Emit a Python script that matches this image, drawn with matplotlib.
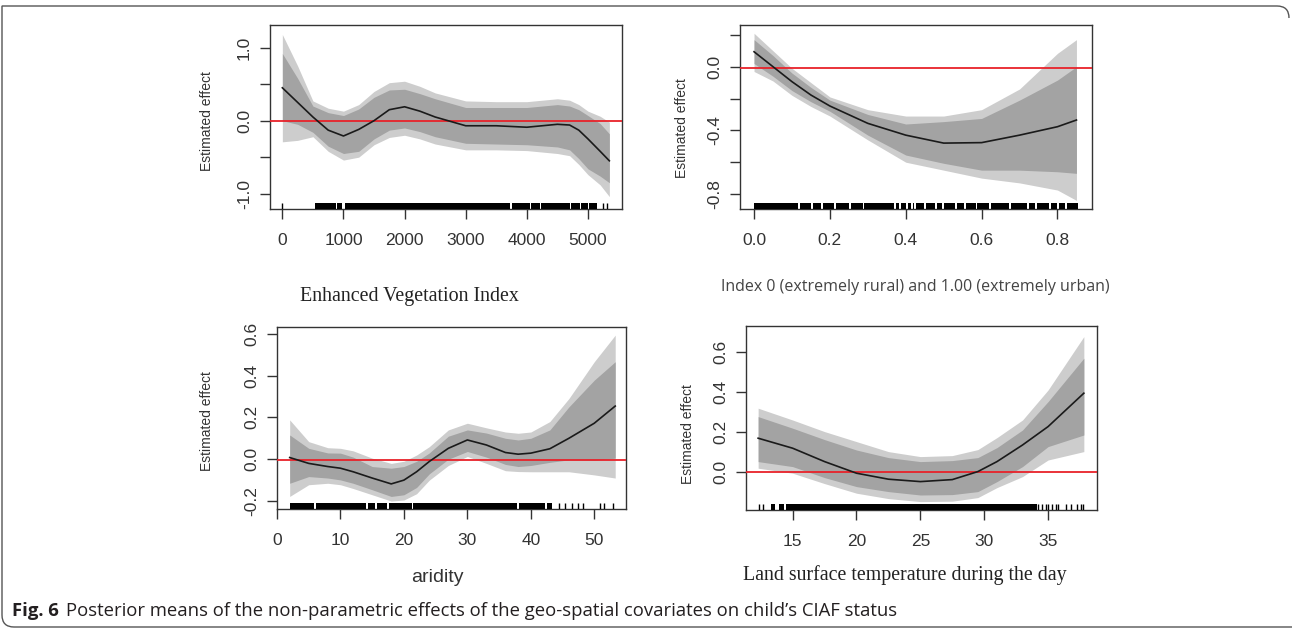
import numpy as np
import matplotlib
matplotlib.use('Agg')
import matplotlib.pyplot as plt
from matplotlib.path import Path
from matplotlib.patches import PathPatch
from matplotlib.transforms import IdentityTransform

plt.rcParams['font.family'] = ['Liberation Sans', 'DejaVu Sans']

# ---- panel 1: Enhanced Vegetation Index
evi_x = [0, 250, 500, 750, 1000, 1250, 1500, 1750, 2000, 2250, 2500, 3000, 3500, 4000, 4500, 4700, 4850, 5000, 5200, 5350]
evi_mean = [0.45, 0.25, 0.05, -0.13, -0.21, -0.12, 0.0, 0.15, 0.19, 0.13, 0.05, -0.07, -0.07, -0.09, -0.05, -0.06, -0.13, -0.25, -0.42, -0.55]
evi_o_hi = [1.18, 0.75, 0.27, 0.17, 0.13, 0.22, 0.40, 0.52, 0.54, 0.47, 0.38, 0.27, 0.26, 0.26, 0.30, 0.28, 0.22, 0.13, 0.06, -0.02]
evi_i_hi = [0.92, 0.58, 0.20, 0.11, 0.07, 0.16, 0.32, 0.42, 0.43, 0.37, 0.30, 0.18, 0.18, 0.18, 0.22, 0.20, 0.15, 0.07, -0.04, -0.18]
evi_i_lo = [0.0, -0.05, -0.16, -0.35, -0.45, -0.42, -0.25, -0.13, -0.10, -0.15, -0.22, -0.31, -0.32, -0.33, -0.36, -0.40, -0.52, -0.66, -0.76, -0.85]
evi_o_lo = [-0.29, -0.27, -0.22, -0.42, -0.54, -0.50, -0.33, -0.23, -0.20, -0.25, -0.32, -0.40, -0.40, -0.41, -0.45, -0.48, -0.60, -0.74, -0.88, -1.04]
evi_rug_blocks = [(535, 612), (622, 694), (704, 776), (786, 885), (895, 972), (1026, 3730), (3760, 3885), (3895, 4050),
                  (4060, 4215), (4225, 4375), (4385, 4540), (4550, 4705), (4715, 4870), (4880, 5000), (5010, 5145)]
evi_rug_single = [0, 5245, 5310]

# ---- panel 2: urbanicity index
urb_x = [0.0, 0.05, 0.1, 0.15, 0.2, 0.3, 0.4, 0.5, 0.6, 0.7, 0.8, 0.85]
urb_mean = [0.094, 0.0, -0.094, -0.178, -0.247, -0.356, -0.43, -0.48, -0.477, -0.43, -0.377, -0.335]
urb_o_hi = [0.21, 0.10, -0.01, -0.10, -0.19, -0.27, -0.31, -0.31, -0.27, -0.14, 0.084, 0.17]
urb_i_hi = [0.17, 0.07, -0.04, -0.13, -0.21, -0.30, -0.36, -0.345, -0.325, -0.21, -0.084, 0.0]
urb_i_lo = [0.02, -0.06, -0.15, -0.22, -0.28, -0.43, -0.555, -0.607, -0.65, -0.65, -0.66, -0.67]
urb_o_lo = [-0.03, -0.09, -0.18, -0.25, -0.31, -0.46, -0.60, -0.65, -0.70, -0.73, -0.775, -0.84]
urb_rug_blocks = [(0.0, 0.117), (0.121, 0.150), (0.155, 0.176), (0.181, 0.211), (0.216, 0.251), (0.256, 0.286),
                  (0.291, 0.369), (0.374, 0.383), (0.388, 0.400), (0.405, 0.413), (0.418, 0.422), (0.427, 0.448),
                  (0.453, 0.478), (0.483, 0.496), (0.501, 0.531), (0.536, 0.553), (0.558, 0.584), (0.589, 0.619),
                  (0.624, 0.672), (0.677, 0.720), (0.725, 0.742), (0.747, 0.777), (0.782, 0.799), (0.804, 0.821),
                  (0.826, 0.854)]
urb_rug_single = []

# ---- panel 3: aridity
ari_x = [2, 5, 8, 10, 12, 15, 18, 20, 22, 24, 27, 30, 33, 36, 38, 40, 43, 46, 50, 53.3]
ari_mean = [0.008, -0.02, -0.035, -0.043, -0.06, -0.09, -0.118, -0.10, -0.06, -0.011, 0.052, 0.092, 0.068, 0.032, 0.024, 0.029, 0.05, 0.10, 0.172, 0.254]
ari_o_hi = [0.188, 0.084, 0.055, 0.052, 0.04, 0.005, -0.02, -0.01, 0.02, 0.06, 0.14, 0.172, 0.15, 0.13, 0.124, 0.13, 0.18, 0.29, 0.466, 0.593]
ari_i_hi = [0.116, 0.052, 0.03, 0.029, 0.01, -0.035, -0.043, -0.035, -0.01, 0.03, 0.11, 0.14, 0.125, 0.10, 0.092, 0.10, 0.14, 0.25, 0.378, 0.466]
ari_i_lo = [-0.115, -0.083, -0.09, -0.099, -0.115, -0.146, -0.178, -0.17, -0.135, -0.07, 0.0, 0.037, 0.01, -0.025, -0.035, -0.03, -0.015, -0.003, -0.006, 0.005]
ari_o_lo = [-0.178, -0.122, -0.115, -0.122, -0.14, -0.17, -0.20, -0.195, -0.165, -0.10, -0.03, 0.013, -0.02, -0.055, -0.059, -0.06, -0.06, -0.06, -0.075, -0.09]
ari_rug_blocks = [(2.1, 5.8), (6.1, 14.1), (14.4, 15.4), (15.7, 17.4), (17.7, 21.2), (21.5, 37.8), (38.1, 42.3), (42.5, 43.4)]
ari_rug_single = [44.4, 45.4, 46.5, 47.5, 48.3, 50.9, 51.5, 53.0]

# ---- panel 4: land surface temperature (day)
lst_x = [12.3, 15, 17.5, 20, 22.5, 25, 27.5, 29.5, 31, 33, 35, 37.8]
lst_mean = [0.167, 0.117, 0.05, -0.008, -0.038, -0.05, -0.04, 0.0, 0.05, 0.133, 0.225, 0.392]
lst_o_hi = [0.317, 0.258, 0.20, 0.15, 0.10, 0.075, 0.08, 0.11, 0.17, 0.258, 0.408, 0.675]
lst_i_hi = [0.275, 0.217, 0.16, 0.108, 0.07, 0.05, 0.055, 0.07, 0.12, 0.208, 0.35, 0.567]
lst_i_lo = [0.05, 0.025, -0.03, -0.075, -0.10, -0.117, -0.115, -0.10, -0.05, 0.025, 0.125, 0.183]
lst_o_lo = [0.017, -0.008, -0.06, -0.108, -0.135, -0.15, -0.148, -0.13, -0.08, -0.025, 0.058, 0.10]
lst_rug_blocks = [(13.3, 13.6), (13.9, 14.3), (14.5, 34.1)]
lst_rug_single = [12.4, 12.7, 34.2, 34.5, 34.8, 35.0, 35.3, 35.6, 35.8, 36.4, 36.8, 37.3, 37.6, 37.7]

W, H = 1292, 630
fig = plt.figure(figsize=(W / 100, H / 100), dpi=100)
fig.patch.set_facecolor('white')


def px_axes(left, top, right, bottom):
    # pixel box (from top-left) -> figure fraction
    return fig.add_axes([left / W, 1 - bottom / H, (right - left) / W, (bottom - top) / H])


def draw_panel(ax, x, mean, o_hi, i_hi, i_lo, o_lo, blocks, singles, red_y,
               xlim, ylim, xticks, xlabels, yticks, ylabels):
    ax.fill_between(x, o_lo, o_hi, color='#cdcdcd', lw=0, zorder=1)
    ax.fill_between(x, i_lo, i_hi, color='#a3a3a3', lw=0, zorder=2)
    ax.axhline(red_y, color='#e8222a', lw=1.3, zorder=3)
    ax.plot(x, mean, color='#1a1a1a', lw=1.2, zorder=4)
    # rug along the bottom of the box
    tr = ax.get_xaxis_transform()
    ax.broken_barh([(s, e - s) for s, e in blocks], (0, 0.035), facecolors='black',
                   transform=tr, zorder=5)
    if singles:
        ax.vlines(singles, 0, 0.035, transform=tr, color='black', lw=1.0, zorder=5)
    ax.set_xlim(xlim)
    ax.set_ylim(ylim)
    ax.set_xticks(xticks)
    ax.set_xticklabels(xlabels)
    ax.set_yticks(yticks)
    ax.set_yticklabels(ylabels, rotation=90, va='center')
    ax.tick_params(direction='out', length=7, width=1, color='#333333',
                   labelsize=12.5, labelcolor='#333333')
    ax.tick_params(axis='x', pad=10)
    ax.tick_params(axis='y', pad=6)
    for sp in ax.spines.values():
        sp.set_color('#333333')
        sp.set_linewidth(1.0)


ax1 = px_axes(270, 25, 622, 209)
draw_panel(ax1, evi_x, evi_mean, evi_o_hi, evi_i_hi, evi_i_lo, evi_o_lo, evi_rug_blocks, evi_rug_single, 0.0,
           (-202, 5557), (-1.21, 1.31), [0, 1000, 2000, 3000, 4000, 5000],
           ['0', '1000', '2000', '3000', '4000', '5000'],
           [-1.0, -0.5, 0.0, 0.5, 1.0], ['-1.0', '', '0.0', '', '1.0'])

ax2 = px_axes(740, 25, 1092, 209)
draw_panel(ax2, urb_x, urb_mean, urb_o_hi, urb_i_hi, urb_i_lo, urb_o_lo, urb_rug_blocks, urb_rug_single, -0.01,
           (-0.037, 0.891), (-0.894, 0.262), [0.0, 0.2, 0.4, 0.6, 0.8],
           ['0.0', '0.2', '0.4', '0.6', '0.8'],
           [-0.8, -0.6, -0.4, -0.2, 0.0, 0.2], ['-0.8', '', '-0.4', '', '0.0', ''])

ax3 = px_axes(277, 327, 626, 509)
draw_panel(ax3, ari_x, ari_mean, ari_o_hi, ari_i_hi, ari_i_lo, ari_o_lo, ari_rug_blocks, ari_rug_single, -0.005,
           (0.0, 55.0), (-0.238, 0.632), [0, 10, 20, 30, 40, 50],
           ['0', '10', '20', '30', '40', '50'],
           [-0.2, 0.0, 0.2, 0.4, 0.6], ['-0.2', '0.0', '0.2', '0.4', '0.6'])

ax4 = px_axes(746, 326, 1097, 510)
draw_panel(ax4, lst_x, lst_mean, lst_o_hi, lst_i_hi, lst_i_lo, lst_o_lo, lst_rug_blocks, lst_rug_single, 0.0,
           (11.35, 38.83), (-0.192, 0.728), [15, 20, 25, 30, 35],
           ['15', '20', '25', '30', '35'],
           [0.0, 0.2, 0.4, 0.6], ['0.0', '0.2', '0.4', '0.6'])


def ftext(x, y, s, **kw):
    fig.text(x / W, 1 - y / H, s, **kw)


# y labels
for (x, y) in [(207, 121), (682, 128), (207, 421), (688, 434)]:
    ftext(x, y, 'Estimated effect', rotation=90, ha='center', va='center', fontsize=10, color='#333333')

# x labels
ftext(409, 297, 'Enhanced Vegetation Index', ha='center', va='center', fontsize=14.4,
      family=['Liberation Serif', 'DejaVu Serif'], color='#222222')
ftext(915, 287, 'Index 0 (extremely rural) and 1.00 (extremely urban)', ha='center', va='center',
      fontsize=11.5, family=['Open Sans', 'DejaVu Sans'], color='#444444')
ftext(437, 577, 'aridity', ha='center', va='center', fontsize=14, color='#333333')
ftext(905, 575, 'Land surface temperature during the day', ha='center', va='center', fontsize=14.3,
      family=['Liberation Serif', 'DejaVu Serif'], color='#222222')

# caption
ftext(12, 611, 'Fig. 6', ha='left', va='center', fontsize=13.3, weight='bold',
      family=['Open Sans', 'DejaVu Sans'], color='#231f20')
ftext(66, 611, "Posterior means of the non-parametric effects of the geo-spatial covariates on child\u2019s CIAF status",
      ha='left', va='center', fontsize=13.3, family=['Open Sans', 'DejaVu Sans'], color='#231f20')

# outer frame: square top-left, rounded top-right and bottom-left
verts = [(1289, 612), (1289, 624), (1277, 624), (2, 624), (2, 15), (2, 3), (14, 3), (1292, 3)]
codes = [Path.MOVETO, Path.CURVE3, Path.CURVE3, Path.LINETO, Path.LINETO, Path.CURVE3, Path.CURVE3, Path.LINETO]
fig.patches.append(PathPatch(Path(verts, codes), fill=False, ec='#555555', lw=1.0,
                             transform=IdentityTransform(), figure=fig))

fig.savefig('out.png', dpi=100)
